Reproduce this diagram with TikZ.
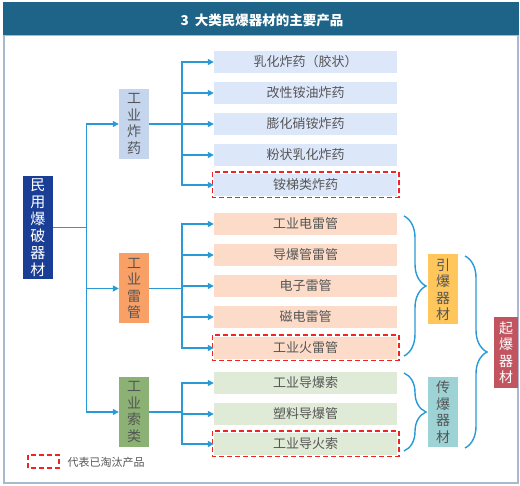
\documentclass[tikz,border=0pt]{standalone}
\usepackage{fontspec}
\setmainfont{Noto Sans CJK SC}
\newfontfamily\cjk{Noto Sans CJK SC}
\usetikzlibrary{arrows.meta,decorations.pathreplacing,calc}
\definecolor{titlebg}{HTML}{1D6488}
\definecolor{framec}{HTML}{A9B8CC}
\definecolor{connc}{HTML}{2A9AD6}
\definecolor{mainbg}{HTML}{1A3E96}
\definecolor{expbg}{HTML}{C5D5EE}
\definecolor{detbg}{HTML}{F9A066}
\definecolor{cordbg}{HTML}{8BB174}
\definecolor{pexp}{HTML}{DDE7FA}
\definecolor{pdet}{HTML}{FCDCC8}
\definecolor{pcord}{HTML}{DFEAD7}
\definecolor{ybg}{HTML}{FFC65C}
\definecolor{tbg}{HTML}{9ED3D6}
\definecolor{rbg}{HTML}{C1545F}
\definecolor{dashred}{HTML}{F02424}
\definecolor{txt}{HTML}{555555}
\begin{document}
\begin{tikzpicture}[x=1pt,y=-1pt,
  vbox/.style={minimum width=30pt,minimum height=70pt,inner sep=0pt,align=center,text=txt,font=\fontsize{14}{16.5}\selectfont},
  prod/.style={minimum width=183pt,minimum height=22pt,inner sep=0pt,text=txt,font=\fontsize{13}{15}\selectfont},
  conn/.style={draw=connc,line width=1.3pt},
  arr/.style={conn,-{Triangle[length=6pt,width=6pt]}},
  brc/.style={draw=connc,line width=1.4pt,decorate,decoration={brace,amplitude=22pt}},
  old/.style={draw=dashred,line width=1.6pt,dash pattern=on 5pt off 3pt}]
\useasboundingbox (0,0) rectangle (520,486);
% frame and title
\draw[framec,line width=1.5pt] (4,35) rectangle (518,483);
\fill[titlebg] (3,2) rectangle (519,35);
\node[text=white,font=\bfseries\fontsize{13.5}{15}\selectfont] (title) at (262,20) {3\ \ 大类民爆器材的主要产品};
% main
\node[vbox,fill=mainbg,text=white,minimum height=103pt,font=\fontsize{15}{17}\selectfont] (main) at (38,227.5) {民\\用\\爆\\破\\器\\材};
% categories
\node[vbox,fill=expbg] (c1) at (134,124) {工\\业\\炸\\药};
\node[vbox,fill=detbg] (c2) at (134,288.5) {工\\业\\雷\\管};
\node[vbox,fill=cordbg] (c3) at (134,412) {工\\业\\索\\类};
% products
\node[prod,fill=pexp] (p1) at (305.5,62) {乳化炸药（胶状）};
\node[prod,fill=pexp] (p2) at (305.5,93) {改性铵油炸药};
\node[prod,fill=pexp] (p3) at (305.5,124) {膨化硝铵炸药};
\node[prod,fill=pexp] (p4) at (305.5,155) {粉状乳化炸药};
\node[prod,fill=pexp] (p5) at (305.5,185) {铵梯类炸药};
\node[prod,fill=pdet] (d1) at (305.5,224) {工业电雷管};
\node[prod,fill=pdet] (d2) at (305.5,255) {导爆管雷管};
\node[prod,fill=pdet] (d3) at (305.5,286) {电子雷管};
\node[prod,fill=pdet] (d4) at (305.5,317) {磁电雷管};
\node[prod,fill=pdet] (d5) at (305.5,348) {工业火雷管};
\node[prod,fill=pcord] (s1) at (305.5,383) {工业导爆索};
\node[prod,fill=pcord] (s2) at (305.5,414) {塑料导爆管};
\node[prod,fill=pcord] (s3) at (305.5,444) {工业导火索};
% dashed outlines
\foreach \n in {p5,d5,s3}{
  \draw[old] ($(\n.north west)+(-1.5,-1.5)$) rectangle ($(\n.south east)+(1.5,1.5)$);
}
% groups
\node[vbox,fill=ybg] (g1) at (443,289.5) {引\\爆\\器\\材};
\node[vbox,fill=tbg] (g2) at (443,412) {传\\爆\\器\\材};
\node[vbox,fill=rbg,text=white,minimum width=24pt,minimum height=71pt] (g3) at (506,352.5) {起\\爆\\器\\材};
% connectors
\draw[conn] (main.east) -- ++(33,0) coordinate (j0);
\draw[arr] (j0) |- (c1.west);
\draw[arr] (j0) |- (c2.west);
\draw[arr] (j0) |- (c3.west);
\draw[conn] (c1.east) -- (182,124) coordinate (j1);
\foreach \n in {p1,p2,p3,p4,p5} \draw[arr] (j1) |- (\n.west);
\draw[conn] (c2.east) -- (182,288.5) coordinate (j2);
\foreach \n in {d1,d2,d3,d4,d5} \draw[arr] (j2) |- (\n.west);
\draw[conn] (c3.east) -- (182,412) coordinate (j3);
\foreach \n in {s1,s2,s3} \draw[arr] (j3) |- (\n.west);
% braces
\draw[brc] (404,216) -- (404,356);
\draw[brc] (404,373) -- (404,451);
\draw[brc] (465,256) -- (465,448);
% legend
\draw[old] (28,455) rectangle (59,468);
\node[anchor=west,text=txt,font=\fontsize{11}{13}\selectfont] (leg) at (64,462) {代表已淘汰产品};
\end{tikzpicture}
\end{document}
